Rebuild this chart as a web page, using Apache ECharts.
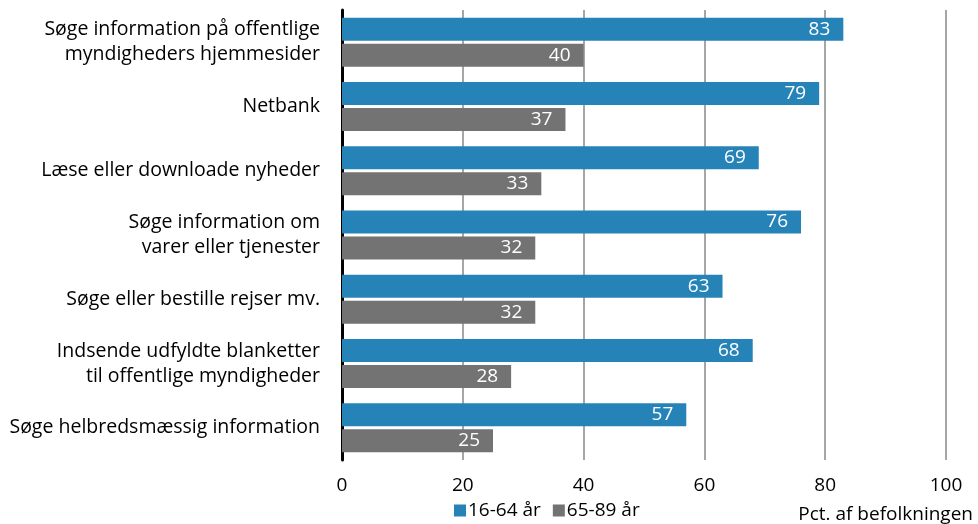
<!DOCTYPE html>
<html>
<head>
<meta charset="utf-8">
<script src="https://cdn.jsdelivr.net/npm/echarts@6/dist/echarts.min.js"></script>
<style>
  html, body { margin: 0; padding: 0; background: #fff; }
  #chart { width: 978px; height: 524px; }
</style>
</head>
<body>
<div id="chart"></div>
<script>
// Activities on the internet, share of population by age group
const categories = [
  'Søge information på offentlige\nmyndigheders hjemmesider',
  'Netbank',
  'Læse eller downloade nyheder',
  'Søge information om\nvarer eller tjenester',
  'Søge eller bestille rejser mv.',
  'Indsende udfyldte blanketter\ntil offentlige myndigheder',
  'Søge helbredsmæssig information'
];
const seriesNames = ['16-64 år', '65-89 år'];
const young = [83, 79, 69, 76, 63, 68, 57];
const old = [40, 37, 33, 32, 32, 28, 25];
const axisUnit = 'Pct. af befolkningen';

const FONT = '"Liberation Sans Narrow", "Arial Narrow", "Open Sans", sans-serif';
const BLUE = '#2683b8';
const GREY = '#737373';

const chart = echarts.init(document.getElementById('chart'), null, { renderer: 'canvas' });

const barLabel = {
  show: true,
  position: 'insideRight',
  color: '#ffffff',
  fontFamily: FONT,
  fontSize: 19,
  distance: 13
};

chart.setOption({
  animation: false,
  textStyle: { fontFamily: FONT },
  grid: { left: 342, right: 32, top: 10, bottom: 64, containLabel: false },
  legend: {
    data: seriesNames,
    bottom: -1,
    left: 449,
    itemWidth: 12,
    itemHeight: 12,
    itemGap: 12,
    icon: 'rect',
    textStyle: { fontFamily: FONT, fontSize: 19, color: '#000', padding: [0, 0, 0, -3] }
  },
  graphic: [{
    type: 'text',
    right: 5,
    bottom: 0,
    style: { text: axisUnit, fontFamily: FONT, fontSize: 19, fill: '#000' }
  }],
  xAxis: {
    type: 'value',
    min: 0,
    max: 100,
    interval: 20,
    axisLine: { show: false },
    axisTick: { show: false },
    axisLabel: { color: '#000', fontFamily: FONT, fontSize: 19, margin: 16 },
    splitLine: { show: true, lineStyle: { color: '#a6a6a6', width: 2 } }
  },
  yAxis: {
    type: 'category',
    inverse: true,
    data: categories,
    axisLine: { show: true, lineStyle: { color: '#000', width: 3 } },
    axisTick: { show: false },
    axisLabel: {
      color: '#000',
      fontFamily: FONT,
      fontSize: 19.5,
      margin: 22,
      lineHeight: 25,
      align: 'right'
    }
  },
  series: [
    {
      name: seriesNames[0],
      type: 'bar',
      data: young,
      itemStyle: { color: BLUE },
      barWidth: 23,
      barGap: '13%',
      label: barLabel
    },
    {
      name: seriesNames[1],
      type: 'bar',
      data: old,
      itemStyle: { color: GREY },
      barWidth: 23,
      barGap: '13%',
      label: barLabel
    }
  ]
});
</script>
</body>
</html>
